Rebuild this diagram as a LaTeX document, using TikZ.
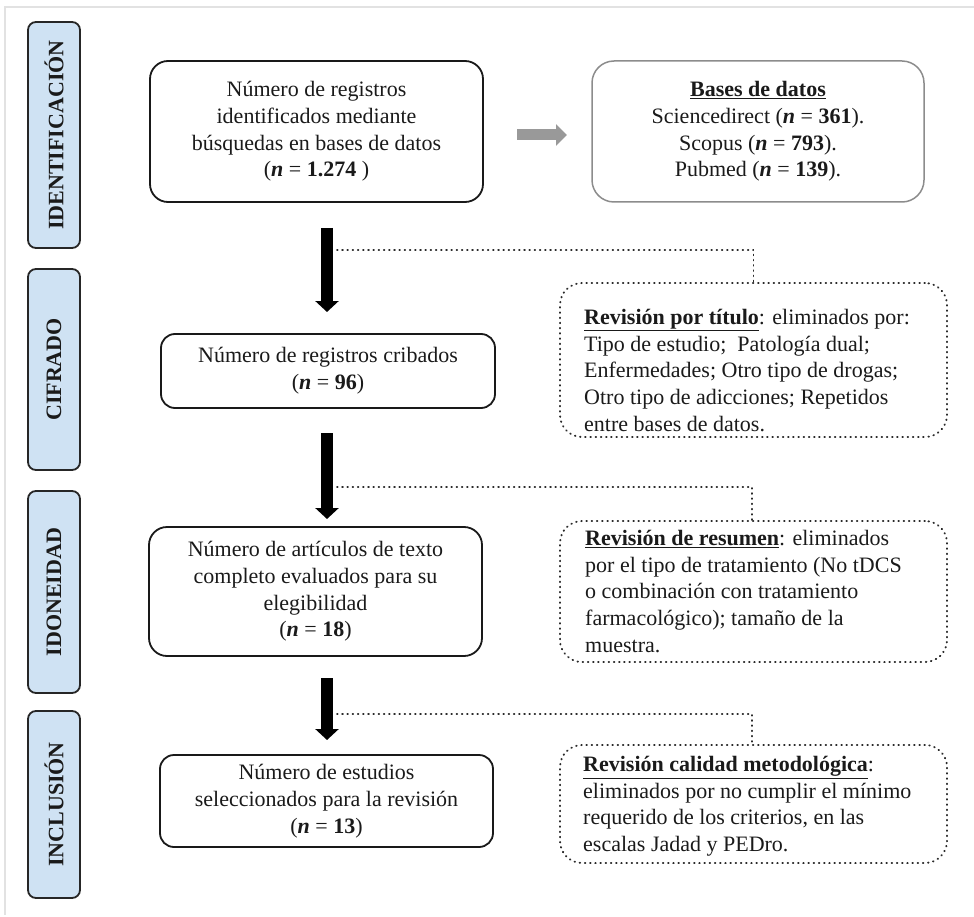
\documentclass[tikz,border=0pt]{standalone}
\usepackage{fontspec}
\setmainfont{Liberation Serif}
\usetikzlibrary{arrows.meta}
\definecolor{lblue}{HTML}{CFE2F3}
\definecolor{txt}{HTML}{1A1A1A}
\definecolor{frame}{HTML}{E2E2E2}
\definecolor{grayarrow}{HTML}{999999}
\definecolor{dotc}{HTML}{2A2A2A}
\newcommand\nval{\textbf{\textit{n}}}
\tikzset{
  every node/.style={font=\fontsize{22}{26.7}\selectfont, text=txt},
  mainbox/.style={draw=black!90, line width=1.8pt, rounded corners=18pt, align=center, inner sep=0pt},
  sidebox/.style={draw=black!45, line width=1.5pt, rounded corners=22pt, align=center, inner sep=0pt},
  labelbox/.style={draw=black!85, fill=lblue, line width=1.8pt, rounded corners=8pt, rotate=90,
     minimum height=52pt, inner sep=0pt, font=\fontsize{22}{26.7}\selectfont\bfseries},
  dotbox/.style={draw=dotc, line width=1.9pt, dash pattern=on 0.6pt off 4.6pt, line cap=round, rounded corners=22pt, inner sep=0pt},
  dotline/.style={draw=dotc, line width=1.9pt, dash pattern=on 0.6pt off 4.6pt, line cap=round},
  bigarrow/.style={draw=black, line width=12pt, -{Triangle[width=23pt,length=11pt]}},
  grayarr/.style={draw=grayarrow, line width=11pt, -{Triangle[width=21pt,length=11pt]}},
  sidetext/.style={align=left, inner sep=0pt, anchor=north west}
}
\begin{document}
\begin{tikzpicture}[x=1pt,y=-1pt]
\useasboundingbox (0,0) rectangle (974,917);
% frame
\draw[frame, line width=2pt] (974,7) -- (5,7) -- (5,915);

% left labels
\node[labelbox, minimum width=226pt] (lid) at (54,135) {IDENTIFICACIÓN};
\node[labelbox, minimum width=201pt] (lcif) at (54,369.5) {CIFRADO};
\node[labelbox, minimum width=202pt] (lido) at (54,592) {IDONEIDAD};
\node[labelbox, minimum width=187pt] (linc) at (54,804.5) {INCLUSIÓN};

% main boxes
\node[mainbox, minimum width=333pt, minimum height=141pt] (b1) at (316.5,131.5)
  {Número de registros\\ identificados mediante\\ búsquedas en bases de datos\\ (\nval{} = \textbf{1.274} )};
\node[mainbox, rounded corners=14pt, minimum width=334pt, minimum height=74pt] (b2) at (328,371)
  {Número de registros cribados\\ (\nval{} = \textbf{96})};
\node[mainbox, minimum width=333pt, minimum height=129pt] (b3) at (315.5,591.5)
  {Número de artículos de texto\\ completo evaluados para su\\ elegibilidad\\ (\nval{} = \textbf{18})};
\node[mainbox, rounded corners=14pt, minimum width=333pt, minimum height=92pt] (b4) at (326.5,801)
  {Número de estudios\\ seleccionados para la revisión\\ (\nval{} = \textbf{13})};

% databases box
\node[sidebox, minimum width=332pt, minimum height=141pt] (db) at (758,131.5)
  {\underline{\textbf{Bases de datos}}\\ Sciencedirect (\nval{} = \textbf{361}).\\ Scopus (\nval{} = \textbf{793}).\\ Pubmed (\nval{} = \textbf{139}).};

% gray arrow
\coordinate (ga1) at (517,135);
\coordinate (ga2) at (567,135);
\draw[grayarr] (ga1) -- (ga2);

% dotted boxes
\node[dotbox, minimum width=387pt, minimum height=154pt] (d1) at (753.5,360) {};
\node[dotbox, minimum width=387pt, minimum height=141pt] (d2) at (753.5,591.5) {};
\node[dotbox, minimum width=387pt, minimum height=118pt] (d3) at (753.5,804) {};

\node[sidetext] (t1) at (584,309)
  {\underline{\textbf{Revisión por título}}: eliminados por:\\ Tipo de estudio;\ \ Patología dual;\\ Enfermedades; Otro tipo de drogas;\\ Otro tipo de adicciones; Repetidos\\ entre bases de datos.};
\node[sidetext] (t2) at (585,530)
  {\underline{\textbf{Revisión de resumen}}: eliminados\\ por el tipo de tratamiento (No tDCS\\ o combinación con tratamiento\\ farmacológico); tamaño de la\\ muestra.};
\node[sidetext] (t3) at (583,756)
  {\underline{\textbf{Revisión calidad metodológica}}:\\ eliminados por no cumplir el mínimo\\ requerido de los criterios, en las\\ escalas Jadad y PEDro.};

% black arrows
\coordinate (a1s) at (327,228);
\coordinate (a1e) at (327,312);
\coordinate (a2s) at (327,433);
\coordinate (a2e) at (327,519);
\coordinate (a3s) at (327,678);
\coordinate (a3e) at (327,740);
\draw[bigarrow] (a1s) -- (a1e);
\draw[bigarrow] (a2s) -- (a2e);
\draw[bigarrow] (a3s) -- (a3e);

% dotted connectors
\coordinate (c1) at (337,250);
\coordinate (c2) at (337,487);
\coordinate (c3) at (337,714);
\draw[dotline] (c1) -| (d1.north);
\draw[dotline] (c2) -| ([xshift=-1.5pt]d2.north);
\draw[dotline] (c3) -| ([xshift=-1.5pt]d3.north);
\end{tikzpicture}
\end{document}
